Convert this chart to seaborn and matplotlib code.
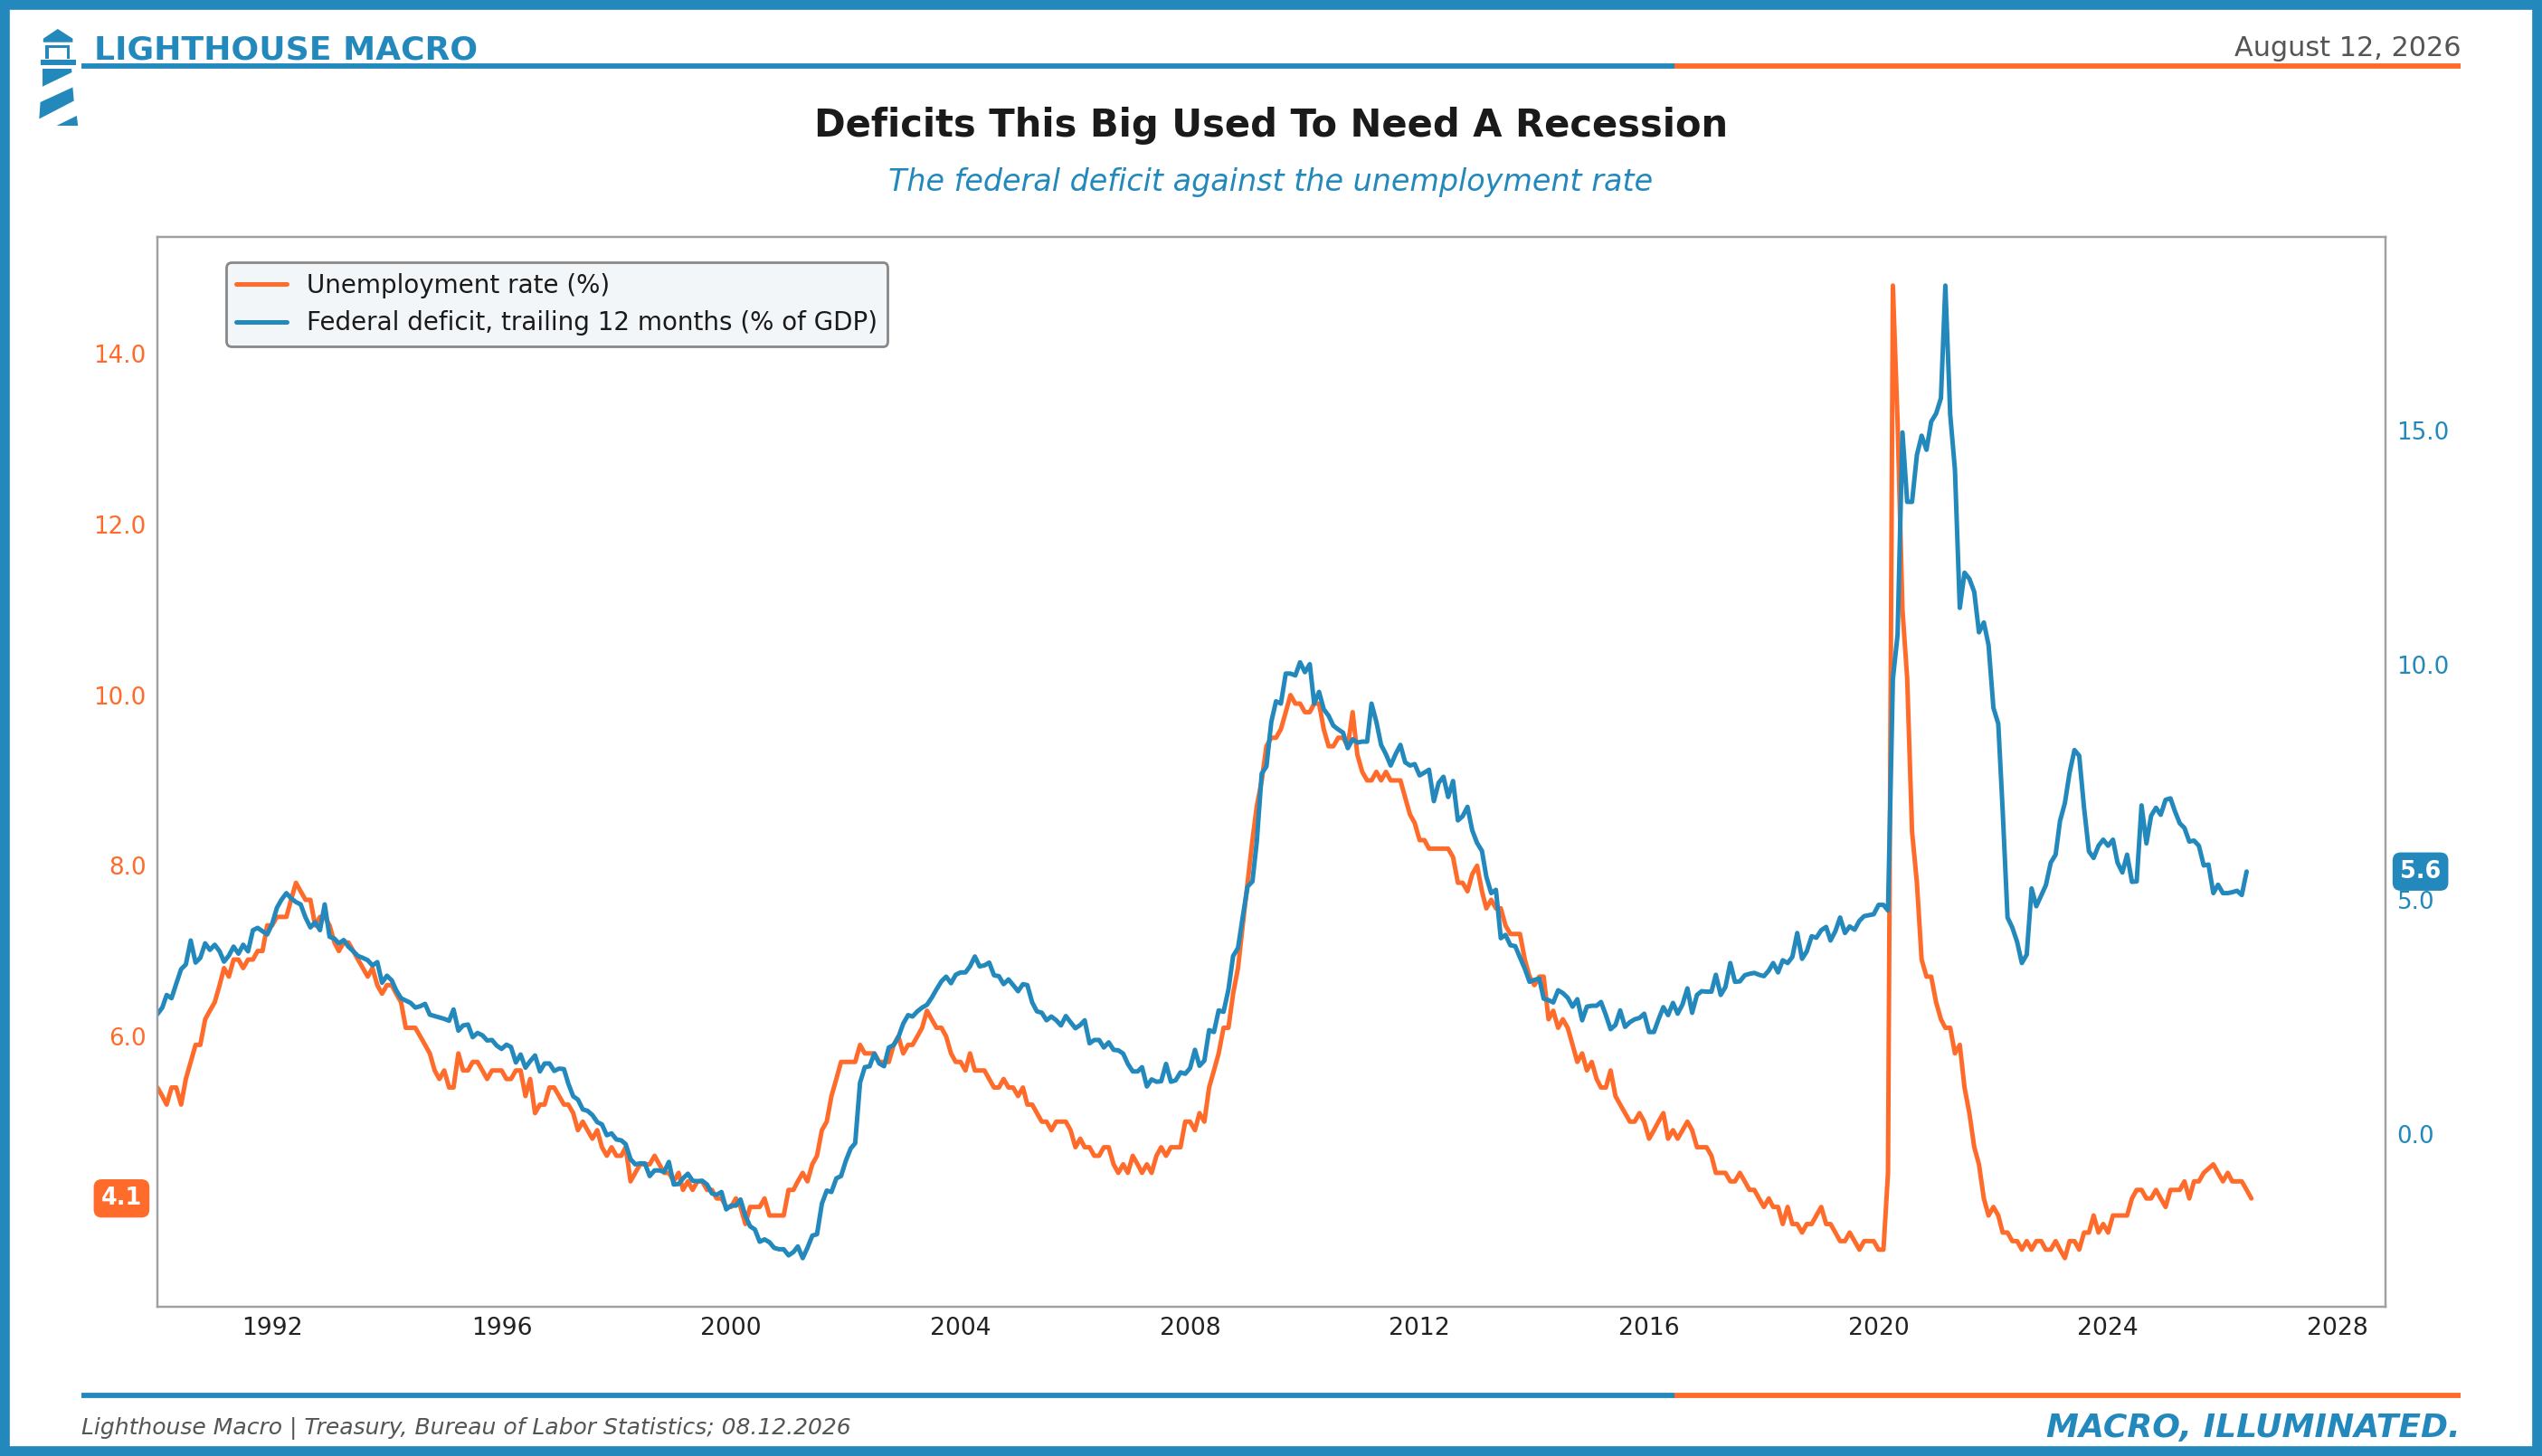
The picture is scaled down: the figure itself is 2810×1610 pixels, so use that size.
import numpy as np
import pandas as pd
import matplotlib
matplotlib.use("Agg")
import matplotlib.pyplot as plt
import matplotlib.dates as mdates
from matplotlib.patches import Rectangle, Polygon
from matplotlib.ticker import FormatStrFormatter
import seaborn as sns

BLUE = "#2389BC"
ORANGE = "#FF6B2A"
W, H = 2810, 1610

# Unemployment rate (%), monthly from Jan 1990 (Oct 2025 not published)
unemp_by_year = [
    [5.4, 5.3, 5.2, 5.4, 5.4, 5.2, 5.5, 5.7, 5.9, 5.9, 6.2, 6.3],
    [6.4, 6.6, 6.8, 6.7, 6.9, 6.9, 6.8, 6.9, 6.9, 7.0, 7.0, 7.3],
    [7.3, 7.4, 7.4, 7.4, 7.6, 7.8, 7.7, 7.6, 7.6, 7.3, 7.4, 7.4],
    [7.3, 7.1, 7.0, 7.1, 7.1, 7.0, 6.9, 6.8, 6.7, 6.8, 6.6, 6.5],
    [6.6, 6.6, 6.5, 6.4, 6.1, 6.1, 6.1, 6.0, 5.9, 5.8, 5.6, 5.5],
    [5.6, 5.4, 5.4, 5.8, 5.6, 5.6, 5.7, 5.7, 5.6, 5.5, 5.6, 5.6],
    [5.6, 5.5, 5.5, 5.6, 5.6, 5.3, 5.5, 5.1, 5.2, 5.2, 5.4, 5.4],
    [5.3, 5.2, 5.2, 5.1, 4.9, 5.0, 4.9, 4.8, 4.9, 4.7, 4.6, 4.7],
    [4.6, 4.6, 4.7, 4.3, 4.4, 4.5, 4.5, 4.5, 4.6, 4.5, 4.4, 4.4],
    [4.3, 4.4, 4.2, 4.3, 4.2, 4.3, 4.3, 4.2, 4.2, 4.1, 4.1, 4.0],
    [4.0, 4.1, 4.0, 3.8, 4.0, 4.0, 4.0, 4.1, 3.9, 3.9, 3.9, 3.9],
    [4.2, 4.2, 4.3, 4.4, 4.3, 4.5, 4.6, 4.9, 5.0, 5.3, 5.5, 5.7],
    [5.7, 5.7, 5.7, 5.9, 5.8, 5.8, 5.8, 5.7, 5.7, 5.7, 5.9, 6.0],
    [5.8, 5.9, 5.9, 6.0, 6.1, 6.3, 6.2, 6.1, 6.1, 6.0, 5.8, 5.7],
    [5.7, 5.6, 5.8, 5.6, 5.6, 5.6, 5.5, 5.4, 5.4, 5.5, 5.4, 5.4],
    [5.3, 5.4, 5.2, 5.2, 5.1, 5.0, 5.0, 4.9, 5.0, 5.0, 5.0, 4.9],
    [4.7, 4.8, 4.7, 4.7, 4.6, 4.6, 4.7, 4.7, 4.5, 4.4, 4.5, 4.4],
    [4.6, 4.5, 4.4, 4.5, 4.4, 4.6, 4.7, 4.6, 4.7, 4.7, 4.7, 5.0],
    [5.0, 4.9, 5.1, 5.0, 5.4, 5.6, 5.8, 6.1, 6.1, 6.5, 6.8, 7.3],
    [7.8, 8.3, 8.7, 9.0, 9.4, 9.5, 9.5, 9.6, 9.8, 10.0, 9.9, 9.9],
    [9.8, 9.8, 9.9, 9.9, 9.6, 9.4, 9.4, 9.5, 9.5, 9.4, 9.8, 9.3],
    [9.1, 9.0, 9.0, 9.1, 9.0, 9.1, 9.0, 9.0, 9.0, 8.8, 8.6, 8.5],
    [8.3, 8.3, 8.2, 8.2, 8.2, 8.2, 8.2, 8.1, 7.8, 7.8, 7.7, 7.9],
    [8.0, 7.7, 7.5, 7.6, 7.5, 7.5, 7.3, 7.2, 7.2, 7.2, 6.9, 6.7],
    [6.6, 6.7, 6.7, 6.2, 6.3, 6.1, 6.2, 6.1, 5.9, 5.7, 5.8, 5.6],
    [5.7, 5.5, 5.4, 5.4, 5.6, 5.3, 5.2, 5.1, 5.0, 5.0, 5.1, 5.0],
    [4.8, 4.9, 5.0, 5.1, 4.8, 4.9, 4.8, 4.9, 5.0, 4.9, 4.7, 4.7],
    [4.7, 4.6, 4.4, 4.4, 4.4, 4.3, 4.3, 4.4, 4.3, 4.2, 4.2, 4.1],
    [4.0, 4.1, 4.0, 4.0, 3.8, 4.0, 3.8, 3.8, 3.7, 3.8, 3.8, 3.9],
    [4.0, 3.8, 3.8, 3.7, 3.6, 3.6, 3.7, 3.6, 3.5, 3.6, 3.6, 3.6],
    [3.5, 3.5, 4.4, 14.8, 13.2, 11.0, 10.2, 8.4, 7.8, 6.9, 6.7, 6.7],
    [6.4, 6.2, 6.1, 6.1, 5.8, 5.9, 5.4, 5.1, 4.7, 4.5, 4.1, 3.9],
    [4.0, 3.9, 3.7, 3.7, 3.6, 3.6, 3.5, 3.6, 3.5, 3.6, 3.6, 3.5],
    [3.5, 3.6, 3.5, 3.4, 3.6, 3.6, 3.5, 3.7, 3.7, 3.9, 3.7, 3.8],
    [3.7, 3.9, 3.9, 3.9, 3.9, 4.1, 4.2, 4.2, 4.1, 4.1, 4.2, 4.1],
    [4.0, 4.2, 4.2, 4.2, 4.3, 4.1, 4.3, 4.3, 4.4, np.nan, 4.5, 4.4],
    [4.3, 4.4, 4.3, 4.3, 4.3, 4.2, 4.1],
]

# Federal deficit, trailing 12 months (% of GDP), monthly from Jan 1990
deficit_by_year = [
    [2.56, 2.70, 2.97, 2.90, 3.21, 3.52, 3.62, 4.13, 3.66, 3.76, 4.07, 3.93],
    [4.04, 3.90, 3.68, 3.81, 4.00, 3.85, 4.04, 3.90, 4.35, 4.40, 4.33, 4.26],
    [4.48, 4.83, 5.00, 5.14, 5.03, 4.95, 4.90, 4.62, 4.41, 4.52, 4.35, 4.90],
    [4.21, 4.17, 4.07, 4.14, 4.00, 3.90, 3.80, 3.76, 3.71, 3.60, 3.67, 3.23],
    [3.38, 3.28, 3.07, 2.90, 2.85, 2.80, 2.70, 2.73, 2.78, 2.55, 2.52, 2.49],
    [2.46, 2.42, 2.66, 2.21, 2.32, 2.34, 2.07, 2.16, 2.11, 2.00, 2.01, 1.89],
    [1.82, 1.91, 1.86, 1.53, 1.70, 1.42, 1.56, 1.68, 1.34, 1.51, 1.51, 1.35],
    [1.40, 1.39, 1.08, 0.81, 0.74, 0.53, 0.50, 0.41, 0.26, 0.21, -0.02, 0.02],
    [-0.11, -0.13, -0.21, -0.53, -0.64, -0.62, -0.62, -0.89, -0.77, -0.77, -0.80, -0.59],
    [-1.07, -1.06, -0.94, -0.84, -0.99, -1.00, -0.99, -1.07, -1.26, -1.29, -1.23, -1.60],
    [-1.52, -1.52, -1.39, -1.74, -1.96, -2.03, -2.29, -2.24, -2.30, -2.42, -2.45, -2.45],
    [-2.58, -2.51, -2.39, -2.64, -2.42, -2.16, -2.13, -1.48, -1.20, -1.23, -0.94, -0.89],
    [-0.56, -0.30, -0.19, 1.10, 1.43, 1.45, 1.72, 1.51, 1.45, 1.85, 1.90, 2.07],
    [2.36, 2.54, 2.51, 2.62, 2.70, 2.76, 2.91, 3.09, 3.26, 3.36, 3.22, 3.40],
    [3.45, 3.45, 3.58, 3.79, 3.58, 3.60, 3.66, 3.39, 3.37, 3.20, 3.30, 3.18],
    [3.05, 3.20, 3.18, 2.81, 2.62, 2.59, 2.43, 2.51, 2.43, 2.32, 2.52, 2.39],
    [2.26, 2.33, 2.43, 1.94, 2.01, 2.01, 1.85, 1.96, 1.80, 1.79, 1.72, 1.50],
    [1.34, 1.34, 1.43, 1.02, 1.17, 1.12, 1.13, 1.50, 1.12, 1.15, 1.32, 1.29],
    [1.41, 1.80, 1.46, 1.57, 2.22, 2.18, 2.64, 2.61, 3.08, 3.80, 3.97, 4.63],
    [5.28, 5.39, 6.25, 7.69, 7.84, 8.79, 9.23, 9.18, 9.82, 9.82, 9.78, 10.06],
    [9.85, 10.02, 9.18, 9.43, 9.06, 8.92, 8.71, 8.63, 8.56, 8.23, 8.42, 8.35],
    [8.37, 8.37, 9.18, 8.79, 8.30, 8.10, 7.86, 8.10, 8.30, 7.93, 7.86, 7.89],
    [7.65, 7.71, 7.77, 7.10, 7.49, 7.62, 7.19, 7.53, 6.69, 6.78, 6.98, 6.48],
    [6.21, 6.04, 5.49, 5.14, 5.21, 4.18, 4.25, 4.03, 4.01, 3.77, 3.53, 3.25],
    [3.29, 3.32, 2.89, 2.86, 2.81, 3.07, 3.01, 2.91, 2.72, 2.88, 2.43, 2.72],
    [2.74, 2.74, 2.82, 2.54, 2.24, 2.33, 2.64, 2.29, 2.39, 2.45, 2.48, 2.57],
    [2.18, 2.18, 2.45, 2.71, 2.54, 2.80, 2.57, 2.77, 3.11, 2.59, 2.97, 3.05],
    [3.04, 3.04, 3.40, 2.97, 3.14, 3.65, 3.25, 3.26, 3.39, 3.42, 3.44, 3.40],
    [3.37, 3.49, 3.65, 3.45, 3.71, 3.65, 3.78, 4.29, 3.74, 3.90, 4.22, 4.19],
    [4.35, 4.42, 4.13, 4.33, 4.62, 4.29, 4.43, 4.36, 4.55, 4.65, 4.67, 4.69],
    [4.89, 4.89, 4.77, 9.70, 10.65, 14.96, 13.48, 13.48, 14.48, 14.89, 14.59, 15.19],
    [15.36, 15.69, 18.09, 15.34, 14.17, 11.22, 11.97, 11.84, 11.56, 10.70, 10.91, 10.43],
    [9.09, 8.75, 6.90, 4.62, 4.41, 4.10, 3.65, 3.83, 5.24, 4.86, 5.09, 5.31],
    [5.79, 5.96, 6.68, 7.06, 7.71, 8.19, 8.07, 6.96, 6.03, 5.89, 6.15, 6.28],
    [6.15, 6.28, 5.79, 5.58, 5.96, 5.38, 5.39, 7.01, 6.20, 6.79, 6.96, 6.81],
    [7.13, 7.16, 6.89, 6.63, 6.53, 6.24, 6.26, 6.15, 5.73, 5.75, 5.14, 5.32],
    [5.14, 5.14, 5.16, 5.19, 5.10, 5.60],
]

START = "1990-01-01"
X_END = "2028-11-01"

TITLE = "Deficits This Big Used To Need A Recession"
SUBTITLE = "The federal deficit against the unemployment rate"
UNEMP_LABEL = "Unemployment rate (%)"
DEFICIT_LABEL = "Federal deficit, trailing 12 months (% of GDP)"
DATE_TEXT = "August 12, 2026"
SOURCE_TEXT = "Lighthouse Macro | Treasury, Bureau of Labor Statistics; 08.12.2026"
TAGLINE = "MACRO, ILLUMINATED."


def monthly_series(by_year):
    vals = [v for year in by_year for v in year]
    idx = pd.date_range(START, periods=len(vals), freq="MS")
    return pd.DataFrame({"date": idx, "value": vals}).dropna()


unemp = monthly_series(unemp_by_year)
deficit = monthly_series(deficit_by_year)

sns.set_theme(style="white")
plt.rcParams["font.family"] = ["DejaVu Sans"]

fig = plt.figure(figsize=(W / 200, H / 200), dpi=200)
fig.patch.set_facecolor("white")

# main axes
ax = fig.add_axes([174 / W, 1 - 1445 / H, (2637 - 174) / W, (1445 - 262) / H])
ax2 = ax.twinx()

sns.lineplot(data=unemp, x="date", y="value", ax=ax, color=ORANGE,
             linewidth=1.8, label=UNEMP_LABEL)
sns.lineplot(data=deficit, x="date", y="value", ax=ax2, color=BLUE,
             linewidth=1.8, label=DEFICIT_LABEL)

for a in (ax, ax2):
    a.set_xlabel("")
    a.set_ylabel("")
    if a.get_legend() is not None:
        a.get_legend().remove()
    for s in a.spines.values():
        s.set_color("#A0A0A0")
        s.set_linewidth(0.8)

ax.set_xlim(pd.Timestamp(START), pd.Timestamp(X_END))
ax.xaxis.set_major_locator(mdates.YearLocator(4))
ax.xaxis.set_major_formatter(mdates.DateFormatter("%Y"))
ax.tick_params(axis="x", length=0, pad=4, labelsize=9.6, labelcolor="#222222")
ax.tick_params(axis="y", length=0, pad=4.5, labelsize=9.4, labelcolor=ORANGE)
ax2.tick_params(axis="y", length=0, pad=4.5, labelsize=9.4, labelcolor=BLUE)
ax.yaxis.set_major_formatter(FormatStrFormatter("%.1f"))
ax2.yaxis.set_major_formatter(FormatStrFormatter("%.1f"))
ax.grid(False)
ax2.grid(False)

# legend
h1, l1 = ax.get_legend_handles_labels()
h2, l2 = ax2.get_legend_handles_labels()
leg = ax2.legend(h1 + h2, l1 + l2, loc="upper left", bbox_to_anchor=(0.031, 0.976),
                 borderaxespad=0, fontsize=10.0, frameon=True, fancybox=True,
                 facecolor="#F3F6F9", edgecolor="#888888", framealpha=1,
                 handlelength=2.0)
leg.get_frame().set_linewidth(1.0)
for t in leg.get_texts():
    t.set_color("#1a1a1a")

# last-value badges
last_u = unemp["value"].iloc[-1]
last_d = deficit["value"].iloc[-1]
ax.annotate(f"{last_u:.1f}", xy=(0, last_u), xycoords=("axes fraction", "data"),
            xytext=(-17, 0), textcoords="offset pixels", ha="right", va="center",
            fontsize=9.2, fontweight="bold", color="white", zorder=10,
            bbox=dict(boxstyle="round,pad=0.32,rounding_size=0.35", fc=ORANGE, ec="none"),
            annotation_clip=False)
ax2.annotate(f"{last_d:.1f}", xy=(1, last_d), xycoords=("axes fraction", "data"),
             xytext=(16, 0), textcoords="offset pixels", ha="left", va="center",
             fontsize=9.2, fontweight="bold", color="white", zorder=10,
             bbox=dict(boxstyle="round,pad=0.32,rounding_size=0.35", fc=BLUE, ec="none"),
             annotation_clip=False)

# decoration layer in pixel units
deco = fig.add_axes([0, 0, 1, 1], zorder=-1)
deco.set_xlim(0, W)
deco.set_ylim(H, 0)
deco.axis("off")
deco.patch.set_visible(False)

deco.add_patch(Rectangle((0, 0), W, H, fill=False, ec=BLUE, lw=7.8, clip_on=True))
for y in (73, 1543):
    deco.plot([90, 1851], [y, y], color=BLUE, lw=2.1, solid_capstyle="butt")
    deco.plot([1851, 2720], [y, y], color=ORANGE, lw=2.1, solid_capstyle="butt")

# lighthouse logo
logo = [
    [(47.8, 42.7), (63.8, 32), (80.4, 42.7), (80.4, 46.7), (47.8, 46.7)],
    [(50.4, 50.5), (53.8, 50.5), (53.8, 65.5), (50.4, 65.5)],
    [(73.6, 50.5), (77.0, 50.5), (77.0, 65.5), (73.6, 65.5)],
    [(50.4, 50.5), (77.0, 50.5), (77.0, 53.0), (50.4, 53.0)],
    [(44.6, 65.7), (83.5, 65.7), (83.5, 71.7), (44.6, 71.7)],
    [(47.0, 76.0), (79.0, 76.0), (79.5, 80.0), (47.0, 95.7)],
    [(44.6, 113.0), (80.4, 96.5), (81.7, 111.5), (43.3, 131.5)],
    [(62.5, 139.0), (86.2, 139.0), (84.8, 128.0)],
]
for pts in logo:
    deco.add_patch(Polygon(pts, closed=True, fc=BLUE, ec="none"))

deco.text(104, 65, "LIGHTHOUSE MACRO", ha="left", va="baseline", fontsize=13.0,
          fontweight="bold", color=BLUE)
deco.text(2720, 62, DATE_TEXT, ha="right", va="baseline", fontsize=10.9, color="#555555")
deco.text(W / 2, 151, TITLE, ha="center", va="baseline", fontsize=15.0,
          fontweight="bold", color="#1a1a1a")
deco.text(W / 2, 201, SUBTITLE, ha="center", va="center", fontsize=12.0,
          fontstyle="italic", color=BLUE)
deco.text(90, 1579, SOURCE_TEXT, ha="left", va="center", fontsize=9.0,
          fontstyle="italic", color="#555555")
deco.text(2720, 1579, TAGLINE, ha="right", va="center", fontsize=13.0,
          fontweight="bold", fontstyle="italic", color=BLUE)

fig.savefig("out.png", dpi=200, facecolor="white")
